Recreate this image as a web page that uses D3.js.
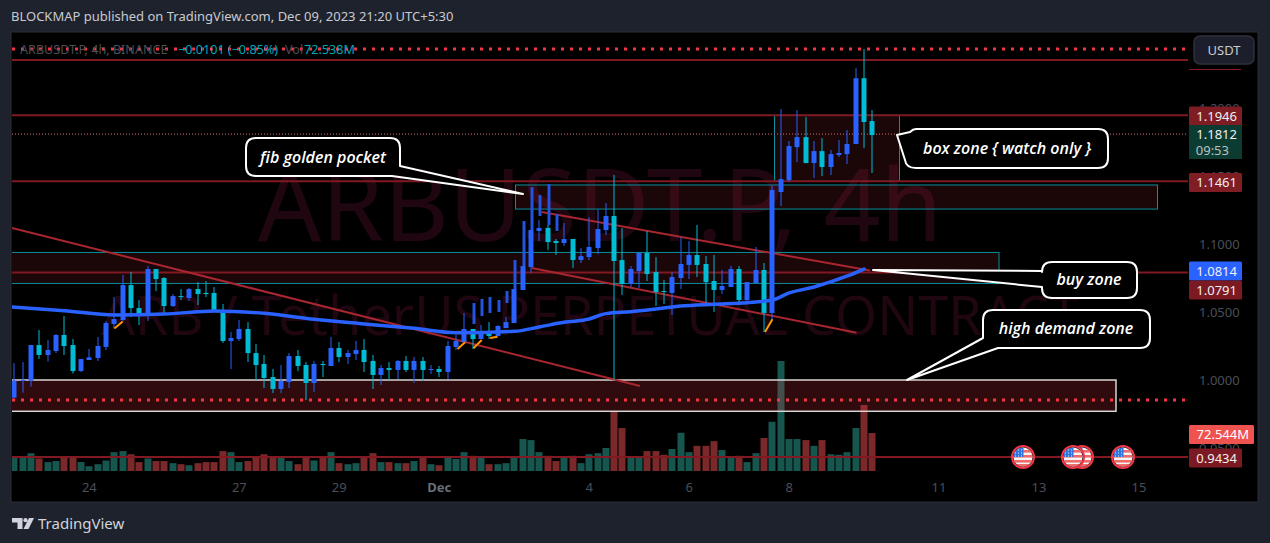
<!DOCTYPE html>
<html><head><meta charset="utf-8">
<script src="https://d3js.org/d3.v7.min.js"></script>
<style>html,body{margin:0;padding:0;background:#1e222d;overflow:hidden}svg{display:block}text{font-family:"Noto Sans",sans-serif}</style>
</head><body><svg id="c" width="1270" height="543"></svg>
<script>
const opens=[.9870,.9995,.9995,1.0257,1.0184,1.0213,1.0331,1.0257,1.0066,1.0147,1.0162,1.0243,1.0412,1.0441,1.0698,1.0529,1.0478,1.0816,1.0750,1.0544,1.0617,1.0603,1.0669,1.0640,1.0640,1.0515,1.0287,1.0301,1.0375,1.0198,1.0118,1.0022,.9934,.9985,1.0176,1.0110,.9978,1.0118,1.0103,1.0235,1.0169,1.0191,1.0221,1.0140,1.0037,1.0088,1.0074,1.0140,1.0074,1.0140,1.0074,1.0081,1.0059,1.0243,1.0279,1.0375,1.0301,1.0360,1.0324,1.0382,1.0419,1.0662,1.0831,1.1096,1.1118,1.1022,1.1007,1.1037,1.0882,1.0904,1.0970,1.1103,1.1206,1.0882,1.0706,1.0801,1.0934,1.0794,1.0654,1.0640,1.0750,1.0846,1.0919,1.0853,1.0728,1.0662,1.0684,1.0816,1.0588,1.0713,1.0809,1.0493,1.1382,1.1470,1.1712,1.1786,1.1595,1.1683,1.1566,1.1654,1.1661,1.1735,1.2219,1.1904];
const closes=[.9995,1.0000,1.0257,1.0184,1.0221,1.0331,1.0250,1.0066,1.0154,1.0167,1.0250,1.0419,1.0448,1.0698,1.0529,1.0485,1.0816,1.0742,1.0544,1.0617,1.0610,1.0669,1.0632,1.0632,1.0507,1.0287,1.0309,1.0375,1.0198,1.0110,1.0015,.9934,.9993,1.0176,1.0103,.9978,1.0118,1.0110,1.0235,1.0169,1.0198,1.0221,1.0132,1.0037,1.0088,1.0074,1.0140,1.0074,1.0140,1.0074,1.0081,1.0059,1.0250,1.0287,1.0375,1.0301,1.0360,1.0324,1.0397,1.0426,1.0669,1.0838,1.1103,1.1118,1.1014,1.1007,1.1037,1.0882,1.0911,1.0978,1.1110,1.1206,1.0875,1.0706,1.0816,1.0934,1.0779,1.0647,1.0647,1.0757,1.0853,1.0919,1.0846,1.0720,1.0662,1.0691,1.0816,1.0588,1.0720,1.0809,1.0493,1.1397,1.1477,1.1720,1.1786,1.1595,1.1683,1.1566,1.1661,1.1669,1.1735,1.2219,1.1897,1.1801];
const highs=[1.0123,1.0132,1.0257,1.0368,1.0294,1.0338,1.0470,1.0301,1.0154,1.0228,1.0316,1.0434,1.0610,1.0772,1.0794,1.0588,1.0838,1.0816,1.0757,1.0632,1.0669,1.0676,1.0720,1.0728,1.0684,1.0559,1.0353,1.0441,1.0426,1.0265,1.0184,1.0081,1.0110,1.0198,1.0221,1.0132,1.0140,1.0140,1.0316,1.0279,1.0221,1.0287,1.0301,1.0184,1.0110,1.0132,1.0147,1.0176,1.0169,1.0169,1.0110,1.0103,1.0287,1.0331,1.0493,1.0375,1.0404,1.0426,1.0404,1.0463,1.0669,1.0838,1.1103,1.1176,1.1140,1.1037,1.1154,1.1037,1.0970,1.1198,1.1254,1.1301,1.1507,1.1118,1.0838,1.0934,1.1096,1.0904,1.0735,1.0794,1.1051,1.1022,1.1140,1.0911,1.0919,1.0809,1.0838,1.0838,1.0720,1.0978,1.0860,1.1433,1.1992,1.1757,1.1985,1.1933,1.1757,1.1779,1.1691,1.1764,1.1838,1.2293,1.2434,1.1985];
const lows=[.9870,.9907,.9951,1.0154,1.0135,1.0198,1.0184,1.0047,1.0059,1.0147,1.0140,1.0221,1.0380,1.0434,1.0463,1.0404,1.0434,1.0654,1.0485,1.0537,1.0588,1.0581,1.0551,1.0610,1.0507,1.0272,1.0081,1.0287,1.0132,1.0000,.9941,.9904,.9904,.9941,1.0066,.9853,.9912,1.0022,1.0103,1.0132,1.0118,1.0147,1.0059,.9934,.9963,1.0000,1.0007,1.0059,.9978,.9993,1.0044,1.0022,1.0007,1.0221,1.0279,1.0228,1.0301,1.0301,1.0324,1.0382,1.0419,1.0662,1.0787,1.1022,1.0955,1.0919,1.0985,1.0823,1.0860,1.0882,1.0926,1.1066,1.0000,1.0625,1.0684,1.0676,1.0728,1.0544,1.0559,1.0478,1.0669,1.0742,1.0757,1.0566,1.0500,1.0632,1.0684,1.0559,1.0573,1.0713,1.0353,1.0441,1.1279,1.1455,1.1602,1.1595,1.1485,1.1499,1.1507,1.1639,1.1588,1.1735,1.1705,1.1522];
const volumes=[25,27,34,24,17,19,28,28,17,9,13,20,36,38,32,17,24,19,19,15,13,11,15,17,17,38,36,17,19,28,32,28,26,19,13,27,20,27,36,15,13,15,28,34,17,17,15,15,19,28,13,11,27,23,36,29,27,13,13,15,27,61,59,36,29,19,25,29,15,32,34,44,113,82,27,27,38,38,31,42,73,36,48,48,57,40,25,29,17,34,63,94,210,61,61,59,48,59,32,31,36,82,126,72.5];
const patIdx=[55,56,57,58,59,60,61,62,63,64,65];
const patTop=[1.0566,1.0596,1.0610,1.0588,1.0654,1.0882,1.1169,1.1418,1.1360,1.1441,1.1220];
const patBot=[1.0412,1.0470,1.0493,1.0500,1.0566,1.0669,1.0838,1.1103,1.1206,1.1140,1.1096];
const maIdx=[-0.3,6,12,18,24,30,36,42,48,53,60,63,66,69,71,74,77,80,84,88,91,93,96,100,102];
const maVal=[1.0537,1.0510,1.0478,1.0485,1.0507,1.0490,1.0446,1.0412,1.0380,1.0348,1.0358,1.0390,1.0424,1.0449,1.0488,1.0502,1.0522,1.0544,1.0557,1.0568,1.0588,1.0640,1.0684,1.0765,1.0816];
const priceTicks=[1.2,1.15,1.1,1.05,1.0,.95];
const timeTickIdx=[9,27,39,51,69,81,93,111,123,135];
const timeTickLab=["24","27","29","Dec","4","6","8","11","13","15"];
const hLevels=[1.2353,1.1946,1.1461,1.0791,.9434];
const dotLevels=[1.2434,.9853];
const lastPrice=1.1812;
const trends=[[-.29,1.1118,75.1,.9956],[63.3,1.1235,102.7,1.0805],[62.1,1.0824,101.1,1.0348]];
const orangeSeg=[[12.0,1.0379,13.0,1.0430],[53.2,1.0228,54.1,1.0277],[55.1,1.0233,56.1,1.0294],[57.1,1.0309,58,1.0318],[90.1,1.0353,91,1.0446]];
// text, price, colour, label offset in px
const axisLabels=[["1.1946",1.1946,"#7f1d25",0.6],["1.1461",1.1461,"#7f1d25",1.2],["1.0814",1.0814,"#2962ff",1.7],["1.0791",1.0791,"#7b1a22",17.5],["0.9434",.9434,"#7b1a22",1]];
const flagX=[1082,1023,1073,1123];

const UP="#2962ff",DN="#00bcd4",VUP="#17564f",VDN="#7a2829",MAROON="#801922",GREY="#4a4e58";
const x=d3.scaleLinear().domain([0,103]).range([14.4,872.4]);
const y=d3.scaleLinear().domain([1,1.1]).range([380,244]);
const v=d3.scaleLinear().domain([0,210]).range([471,361]);
const svg=d3.select("#c");
const defs=svg.append("defs");
defs.append("clipPath").attr("id","plot").append("rect").attr("x",12).attr("y",33).attr("width",1176).attr("height",468);
svg.append("rect").attr("x",11).attr("y",32).attr("width",1247).attr("height",470).attr("fill","#000").attr("stroke","#2a2e39");
svg.append("text").attr("x",11).attr("y",21).attr("font-size",13).attr("fill","#c8cad0").text("BLOCKMAP published on TradingView.com, Dec 09, 2023 21:20 UTC+5:30");
const lg=svg.append("g").attr("fill","#d1d4dc");
lg.append("path").attr("d","M12 518H22.5V529H17.5V522.5H12Z");
lg.append("circle").attr("cx",25.5).attr("cy",520.2).attr("r",2.1);
lg.append("path").attr("d","M29 518H34L28.5 529H23.5Z");
svg.append("text").attr("x",38).attr("y",529).attr("font-size",15).attr("fill","#d1d4dc").text("TradingView");

const p=svg.append("g").attr("clip-path","url(#plot)");
p.append("text").attr("x",600).attr("y",241).attr("text-anchor","middle").attr("font-size",100).attr("fill","#1f0610").text("ARBUSDT.P, 4h");
p.append("text").attr("x",590).attr("y",335).attr("text-anchor","middle").attr("font-size",54).attr("fill","#1f0610").text("ARB / TetherUS PERPETUAL CONTRACT");
p.selectAll(".vol").data(volumes).join("rect").attr("class","vol")
 .attr("x",(d,i)=>Math.round(x(i))-3.5).attr("width",7).attr("y",d=>v(d)).attr("height",d=>v(0)-v(d))
 .attr("fill",(d,i)=>closes[i]<opens[i]?VDN:VUP);
const zoneFill="rgba(242,54,69,0.11)";
const box=(x0,x1,p0,p1,stroke,fill,sw)=>p.append("rect").attr("x",x0).attr("width",x1-x0).attr("y",y(p0)).attr("height",y(p1)-y(p0)).attr("fill",fill).attr("stroke",stroke).attr("stroke-width",sw||1);
box(5,999,1.0938,1.0710,"#0a8f9c",zoneFill);
box(515.5,1157.5,1.1434,1.1257,"#0a8f9c",zoneFill);
box(774.5,899.5,1.1946,1.1461,"#0a8f9c",zoneFill);
box(5,1116,1.0,.977,"#d8d4d4","rgba(242,54,69,0.2)",1.5);
p.selectAll(".lvl").data(hLevels).join("line").attr("x1",12).attr("x2",1188).attr("y1",d=>y(d)).attr("y2",d=>y(d)).attr("stroke",MAROON).attr("stroke-width",2);
p.selectAll(".dot").data(dotLevels).join("line").attr("x1",12).attr("x2",1188).attr("y1",d=>y(d)).attr("y2",d=>y(d)).attr("stroke","#f23645").attr("stroke-width",3).attr("stroke-dasharray","3 6");
p.append("line").attr("x1",12).attr("x2",1188).attr("y1",y(lastPrice)+.5).attr("y2",y(lastPrice)+.5).attr("stroke","#e06a72").attr("stroke-dasharray","1 2");
svg.append("line").attr("x1",1189).attr("x2",1241).attr("y1",69.5).attr("y2",69.5).attr("stroke",MAROON);
p.selectAll(".tr").data(trends).join("line").attr("x1",d=>x(d[0])).attr("y1",d=>y(d[1])).attr("x2",d=>x(d[2])).attr("y2",d=>y(d[3])).attr("stroke","#a8262f").attr("stroke-width",2);
const c=p.selectAll(".cd").data(opens).join("g").attr("class","cd").attr("fill",(d,i)=>closes[i]<d?DN:UP);
c.append("rect").attr("x",(d,i)=>Math.round(x(i))-.5).attr("width",1).attr("y",(d,i)=>y(highs[i])).attr("height",(d,i)=>y(lows[i])-y(highs[i]));
c.append("rect").attr("x",(d,i)=>Math.round(x(i))-2.5).attr("width",5).attr("y",(d,i)=>y(Math.max(d,closes[i]))).attr("height",(d,i)=>Math.max(1,Math.abs(y(d)-y(closes[i]))));
p.selectAll(".pat").data(patIdx).join("rect").attr("class","pat").attr("fill","#2453dd")
 .attr("x",d=>Math.round(x(d))-.5).attr("width",3).attr("y",(d,i)=>y(patTop[i])).attr("height",(d,i)=>y(patBot[i])-y(patTop[i]));
p.selectAll(".or").data(orangeSeg).join("line").attr("x1",d=>x(d[0])).attr("y1",d=>y(d[1])).attr("x2",d=>x(d[2])).attr("y2",d=>y(d[3])).attr("stroke","#ff9800").attr("stroke-width",2);
const ma=d3.line().x(d=>x(d[0])).y(d=>y(d[1])).curve(d3.curveMonotoneX);
p.append("path").attr("d",ma(maIdx.map((d,i)=>[d,maVal[i]]))).attr("fill","none").attr("stroke",UP).attr("stroke-width",3.5).attr("stroke-linecap","round");
const callout=(d,tx,ty,label)=>{
 svg.append("path").attr("d",d).attr("fill","#000").attr("stroke","#fff").attr("stroke-width",2).attr("stroke-linejoin","round");
 svg.append("text").attr("x",tx).attr("y",ty).attr("text-anchor","middle").attr("font-size",16).attr("font-style","italic").attr("font-weight",600).attr("fill","#fff").style("font-family","Open Sans").text(label);
};
callout("M256 138H390Q400 138 400 148V166L523 194L392 176H256Q246 176 246 166V148Q246 138 256 138Z",323,163,"fib golden pocket");
callout("M916 129H1098Q1108 129 1108 139V158Q1108 168 1098 168H916Q906 168 905 160L897 135L910 132Q913 129 916 129Z",1007,154,"box zone { watch only }");
callout("M1052 262H1127Q1137 262 1137 272V288Q1137 298 1127 298H1052Q1042 298 1042 288V287L873 270L1042 271V272Q1042 262 1052 262Z",1089,285,"buy zone");
callout("M993 310H1140Q1150 310 1150 320V338Q1150 348 1140 348H998L907 380L983 338V320Q983 310 993 310Z",1066,334,"high demand zone");
const ax=d3.axisRight(y).tickValues(priceTicks).tickFormat(d3.format(".4f")).tickSize(0).tickPadding(0);
const ag=svg.append("g").attr("transform","translate(1199,0)").call(ax);
ag.select(".domain").remove();
ag.selectAll("text").attr("font-size",13).attr("fill",GREY).style("font-family","Noto Sans");
svg.append("g").selectAll("text").data(timeTickIdx).join("text").attr("x",d=>x(d)).attr("y",492).attr("text-anchor","middle").attr("font-size",13).attr("fill",(d,i)=>timeTickLab[i]==="Dec"?"#6a6e78":GREY).attr("font-weight",(d,i)=>timeTickLab[i]==="Dec"?700:400).text((d,i)=>timeTickLab[i]);
const lab=svg.append("g");
axisLabels.forEach(a=>{
 const cy=y(a[1])+a[3];
 lab.append("rect").attr("x",1189).attr("width",53).attr("y",cy-9.5).attr("height",19).attr("rx",1.5).attr("fill",a[2]);
 lab.append("text").attr("x",1237).attr("y",cy+4.8).attr("text-anchor","end").attr("font-size",13).attr("fill","#f0f0f0").text(a[0]);
});
lab.append("rect").attr("x",1189).attr("width",53).attr("y",125).attr("height",34).attr("fill","#0c3b32");
lab.append("text").attr("x",1237).attr("y",138.5).attr("text-anchor","end").attr("font-size",13).attr("fill","#f0f0f0").text("1.1812");
lab.append("text").attr("x",1229).attr("y",155).attr("text-anchor","end").attr("font-size",13).attr("fill","#b8c2c0").text("09:53");
lab.append("rect").attr("x",1189).attr("width",65).attr("y",425).attr("height",19).attr("rx",1.5).attr("fill","#ef5350");
lab.append("text").attr("x",1249).attr("y",439).attr("text-anchor","end").attr("font-size",13).attr("fill","#fff").text("72.544M");
svg.append("rect").attr("x",1194).attr("y",36).attr("width",60).attr("height",28).attr("rx",6).attr("fill","#1c1f2b").attr("stroke","#2e323e").attr("stroke-width",1.5);
svg.append("text").attr("x",1224).attr("y",55).attr("text-anchor","middle").attr("font-size",13).attr("fill","#c8cad0").text("USDT");
const leg=(x0,t,col)=>svg.append("text").attr("x",x0).attr("y",53.5).attr("font-size",12.6).attr("fill",col).text(t);
leg(20,"ARBUSDT.P, 4h, BINANCE",GREY);leg(178,"−0.0101 (−0.85%)","#00a5b8");leg(285,"Vol",GREY);leg(304,"72.538M","#00a5b8");
defs.append("clipPath").attr("id","fc").append("circle").attr("r",9.5);
flagX.forEach(fx=>{
 const g=svg.append("g").attr("transform",`translate(${fx},457)`);
 g.append("circle").attr("r",11).attr("fill","#131722").attr("stroke","#f23645").attr("stroke-width",2);
 const f=g.append("g").attr("clip-path","url(#fc)");
 f.append("rect").attr("x",-10).attr("y",-10).attr("width",20).attr("height",20).attr("fill","#f6f6f6");
 [-7,-2,3].forEach(s=>f.append("rect").attr("x",-10).attr("y",s).attr("width",20).attr("height",2.6).attr("fill","#f26a6a"));
 f.append("rect").attr("x",-10).attr("y",7).attr("width",20).attr("height",3).attr("fill","#f26a6a");
 f.append("rect").attr("x",-10).attr("y",-10).attr("width",10.5).attr("height",10).attr("fill","#2f74e0");
 [-8,-5,-2].forEach(dx=>[-7.5,-4.5,-1.5].forEach(dy=>f.append("rect").attr("x",dx).attr("y",dy).attr("width",1).attr("height",1).attr("fill","#dfe9fb")));
});
</script></body></html>
